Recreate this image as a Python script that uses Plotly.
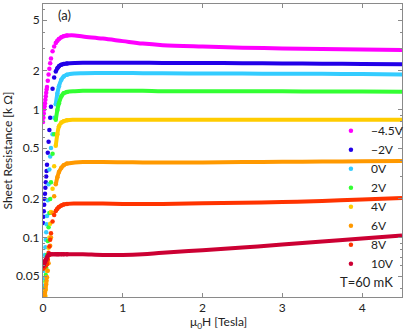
import plotly.graph_objects as go

# field grid of the low-field rise (markers) and of the plateau (lines)
B_rise = [0, 0.005, 0.01, 0.015, 0.02, 0.025, 0.03, 0.035, 0.04, 0.045, 0.05,
          0.06, 0.07, 0.08, 0.09, 0.1, 0.12, 0.14, 0.16, 0.18, 0.2, 0.23, 0.26, 0.3]
B_flat = [0.4, 0.5, 0.75, 1.0, 1.25, 1.5, 2.0, 2.5, 3.0, 3.5, 4.0, 4.5]

labels = ["\u22124.5V", "\u22122V", "0V", "2V", "4V", "6V", "8V", "10V"]
colors = ["#ff00ff", "#2200e8", "#33ccff", "#33ff33", "#ffcc00", "#ff9900", "#ff3300", "#cc0033"]

# sheet resistance in kOhm
R_rise = [
    [0.80, 0.86, 0.93, 1.0, 1.06, 1.12, 1.19, 1.27, 1.35, 1.43, 1.5,
     1.68, 1.88, 2.08, 2.3, 2.5, 2.85, 3.1, 3.3, 3.45, 3.56, 3.67, 3.74, 3.78],
    [0.13, 0.145, 0.16, 0.18, 0.2, 0.22, 0.245, 0.27, 0.3, 0.33, 0.37,
     0.46, 0.56, 0.69, 0.86, 1.05, 1.45, 1.78, 1.98, 2.1, 2.18, 2.24, 2.27, 2.29],
    [0.036, 0.042, 0.048, 0.055, 0.063, 0.073, 0.084, 0.096, 0.11, 0.127, 0.147,
     0.195, 0.26, 0.34, 0.43, 0.5, 0.64, 0.86, 1.1, 1.33, 1.52, 1.71, 1.81, 1.87],
    [0.028, 0.03, 0.032, 0.034, 0.037, 0.04, 0.045, 0.051, 0.058, 0.065, 0.073,
     0.094, 0.12, 0.155, 0.2, 0.27, 0.45, 0.64, 0.83, 0.99, 1.12, 1.27, 1.34, 1.37],
    [0.025, 0.026, 0.027, 0.028, 0.03, 0.032, 0.035, 0.039, 0.044, 0.049, 0.055,
     0.068, 0.083, 0.1, 0.128, 0.158, 0.24, 0.36, 0.52, 0.64, 0.74, 0.79, 0.81, 0.825],
    [0.03, 0.031, 0.032, 0.033, 0.035, 0.037, 0.039, 0.041, 0.043, 0.046, 0.049,
     0.055, 0.063, 0.073, 0.086, 0.1, 0.155, 0.21, 0.26, 0.295, 0.325, 0.35, 0.367, 0.378],
    [0.057, 0.058, 0.058, 0.059, 0.059, 0.06, 0.06, 0.061, 0.061, 0.062, 0.062,
     0.067, 0.076, 0.085, 0.096, 0.108, 0.133, 0.15, 0.161, 0.168, 0.173, 0.178, 0.181, 0.183],
    [0.06, 0.061, 0.062, 0.063, 0.064, 0.065, 0.066, 0.067, 0.068, 0.069, 0.07,
     0.072, 0.073, 0.074, 0.074, 0.074, 0.074, 0.074, 0.074, 0.074, 0.074, 0.074, 0.074, 0.074],
]
R_flat = [
    [3.79, 3.72, 3.58, 3.42, 3.27, 3.18, 3.1, 3.04, 3.0, 2.97, 2.94, 2.91],
    [2.31, 2.32, 2.32, 2.32, 2.32, 2.31, 2.31, 2.3, 2.29, 2.28, 2.27, 2.26],
    [1.91, 1.92, 1.93, 1.93, 1.92, 1.92, 1.91, 1.91, 1.9, 1.9, 1.89, 1.88],
    [1.39, 1.4, 1.4, 1.4, 1.4, 1.39, 1.39, 1.39, 1.385, 1.38, 1.38, 1.375],
    [0.83, 0.832, 0.832, 0.832, 0.832, 0.832, 0.832, 0.832, 0.832, 0.832, 0.832, 0.832],
    [0.385, 0.388, 0.388, 0.387, 0.386, 0.386, 0.386, 0.388, 0.39, 0.392, 0.394, 0.396],
    [0.184, 0.184, 0.184, 0.183, 0.183, 0.183, 0.185, 0.187, 0.189, 0.193, 0.198, 0.203],
    [0.074, 0.074, 0.073, 0.073, 0.074, 0.076, 0.0795, 0.0835, 0.088, 0.093, 0.098, 0.1035],
]

y_ticks = [0.05, 0.1, 0.2, 0.5, 1, 2, 5]
y_minor = [0.04, 0.06, 0.07, 0.08, 0.09, 0.3, 0.4, 0.6, 0.7, 0.8, 0.9, 3, 4, 6]

FONT = "Lato"
first_line = 18  # index in B_rise where the dots merge into a line

fig = go.Figure()

for lab, col, rr, rf in zip(labels, colors, R_rise, R_flat):
    fig.add_trace(
        go.Scatter(
            x=B_rise[first_line:] + B_flat,
            y=rr[first_line:] + rf,
            mode="lines",
            line=dict(color=col, width=4, shape="spline"),
            showlegend=False,
            hoverinfo="skip",
        )
    )
    fig.add_trace(
        go.Scatter(
            name=lab,
            x=B_rise,
            y=rr,
            mode="markers",
            marker=dict(color=col, size=4.5),
        )
    )

axis_style = dict(
    showline=True,
    linecolor="#8a8a8a",
    linewidth=1,
    mirror="ticks",
    ticks="inside",
    ticklen=4,
    tickcolor="#8a8a8a",
    showgrid=False,
    zeroline=False,
    tickfont=dict(size=12, color="#222222"),
)

fig.update_xaxes(range=[0, 4.5], tickvals=[0, 1, 2, 3, 4], **axis_style)
fig.update_yaxes(
    type="log",
    range=[-1.465, 0.824],
    tickvals=y_ticks,
    ticktext=[str(v) for v in y_ticks],
    minor=dict(tickvals=y_minor, ticks="inside", ticklen=2, tickcolor="#8a8a8a"),
    title=dict(text="Sheet Resistance [k \u03a9]", font=dict(size=12, color="#222222"), standoff=4),
    **axis_style,
)

# x axis title, placed a little closer to the tick labels than plotly would
fig.add_annotation(text="\u03bc<sub>0</sub>H [Tesla]", xref="paper", yref="paper",
                   x=0.49, y=-0.086, xanchor="center", yanchor="middle",
                   showarrow=False, font=dict(size=12, color="#222222"))
fig.add_annotation(text="(a)", xref="paper", yref="paper", x=0.035, y=0.995,
                   xanchor="left", yanchor="top", showarrow=False,
                   font=dict(size=13, color="#222222"))
fig.add_annotation(text="T=60 mK", xref="paper", yref="paper", x=0.98, y=0.052,
                   xanchor="right", yanchor="middle", showarrow=False,
                   font=dict(size=13, color="#222222"))

fig.update_layout(
    width=415,
    height=330,
    margin=dict(l=43, r=13, t=4, b=33, autoexpand=False),
    plot_bgcolor="white",
    paper_bgcolor="white",
    font=dict(family=FONT, size=12, color="#222222"),
    legend=dict(
        x=0.802, y=0.617, xanchor="left", yanchor="top",
        bgcolor="rgba(0,0,0,0)", borderwidth=0,
        font=dict(size=12, color="#222222"),
        itemclick=False,
    ),
)

fig.write_html("out.html", config={"displayModeBar": False},
               post_script="document.body.style.margin='0';")
